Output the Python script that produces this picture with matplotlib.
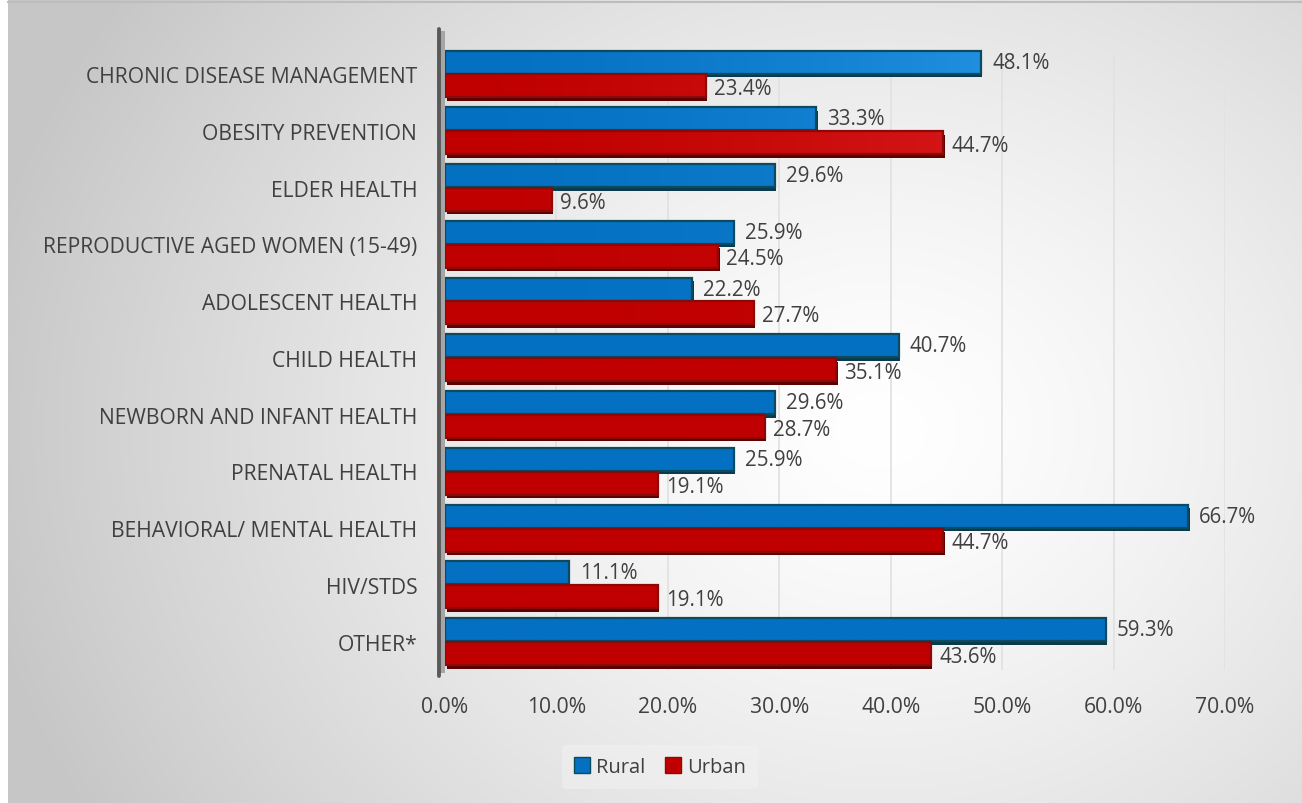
import numpy as np
import matplotlib
matplotlib.use("Agg")
import matplotlib.pyplot as plt
from matplotlib.patches import Patch, Rectangle
import matplotlib.transforms as mtransforms
from matplotlib.colors import to_rgb

categories = ["CHRONIC DISEASE MANAGEMENT", "OBESITY PREVENTION", "ELDER HEALTH",
              "REPRODUCTIVE AGED WOMEN (15-49)", "ADOLESCENT HEALTH", "CHILD HEALTH",
              "NEWBORN AND INFANT HEALTH", "PRENATAL HEALTH", "BEHAVIORAL/ MENTAL HEALTH",
              "HIV/STDS", "OTHER*"]
rural = [48.1, 33.3, 29.6, 25.9, 22.2, 40.7, 29.6, 25.9, 66.7, 11.1, 59.3]
urban = [23.4, 44.7, 9.6, 24.5, 27.7, 35.1, 28.7, 19.1, 44.7, 19.1, 43.6]
xticks = [0, 10, 20, 30, 40, 50, 60, 70]
series_names = ["Rural", "Urban"]

plt.rcParams['font.family'] = ['Open Sans', 'DejaVu Sans']
TXT = '#404040'
FS = 14.8
FSC = 15.2

W, H = 1302, 804
fig = plt.figure(figsize=(W / 100, H / 100), dpi=100)

# background radial gradient
bg = fig.add_axes([0, 0, 1, 1], zorder=-10)
yy, xx = np.mgrid[0:H, 0:W]
d = np.sqrt(((xx - 880) / 1.0) ** 2 + ((yy - 430) / 0.85) ** 2)
t = np.clip(d / 920, 0, 1) ** 1.35
dark = np.array(to_rgb('#c6c6c6'))
light = np.array(to_rgb('#ffffff'))
img = light[None, None, :] * (1 - t[..., None]) + dark[None, None, :] * t[..., None]
img[:, :8, :] = 1.0
bg.imshow(img, extent=[0, W, H, 0], aspect='auto', interpolation='bilinear')
bg.plot([8, W], [2.5, 2.5], color='#bdbdbd', lw=1.5)
bg.set_xlim(0, W)
bg.set_ylim(H, 0)
bg.axis('off')

ax = fig.add_axes([445 / W, 1 - 671 / H, (1225 - 445) / W, (671 - 46.6) / H])
ax.set_facecolor('none')
n = len(categories)
y = np.arange(n)
h = 0.405
off = 0.21

for xv in xticks[1:]:
    ax.plot([xv, xv], [n - 0.5, -0.35], color='#e2e2e2', lw=1.3, zorder=0)

def draw_bars(vals, ypos, base, lite, edge, depth):
    base = np.array(to_rgb(base)); lite = np.array(to_rgb(lite))
    for v, yc in zip(vals, ypos):
        y0 = yc - h / 2
        sh = mtransforms.offset_copy(ax.transData, fig=fig, x=1.5, y=-3.5, units='dots')
        ax.add_patch(Rectangle((0, y0), v, h, facecolor=depth, edgecolor='none',
                               transform=sh, zorder=2))
        rect = Rectangle((0, y0), v, h, facecolor='none', edgecolor=edge, lw=1.6, zorder=4)
        ax.add_patch(rect)
        xs = np.linspace(0, v, 200)
        ww = (xs / 70.0) ** 1.5 * np.clip(1 - yc / 5.0, 0, 1)
        grad = base[None, :] * (1 - ww[:, None]) + lite[None, :] * ww[:, None]
        im = ax.imshow(grad[None, :, :], extent=[0, v, y0 + h, y0], aspect='auto',
                       zorder=3, interpolation='bilinear')
        im.set_clip_path(Rectangle((0, y0), v, h, transform=ax.transData))

draw_bars(rural, y - off, '#0470C2', '#35A6F5', '#0d4a5e', '#083b4f')
draw_bars(urban, y + off, '#C00000', '#F03535', '#8a0a0a', '#5e0000')
ax.set_xlim(0, 70)
ax.set_ylim(n - 0.5, -0.5)

for v, yc in zip(rural, y - off):
    ax.annotate(f"{v:.1f}%", (v, yc), xytext=(8, 0), textcoords='offset points',
                va='center', ha='left', fontsize=FS, color=TXT, zorder=6)
for v, yc in zip(urban, y + off):
    ax.annotate(f"{v:.1f}%", (v, yc), xytext=(6, -2), textcoords='offset points',
                va='center', ha='left', fontsize=FS, color=TXT, zorder=6)

ax.set_yticks(y)
ax.set_yticklabels(categories, fontsize=FSC, color=TXT)
ax.set_xticks(xticks)
ax.set_xticklabels([f"{v:.1f}%" for v in xticks], fontsize=FSC, color=TXT)
ax.tick_params(axis='both', length=0)
ax.tick_params(axis='x', pad=19)
ax.tick_params(axis='y', pad=20)
for s in ax.spines.values():
    s.set_visible(False)

# left wall of the 3D axis
ax.add_patch(Rectangle((-0.5, -0.75), 0.5, n + 0.3, facecolor='#a6a6a6', edgecolor='none',
                       clip_on=False, zorder=1))
ax.plot([-0.5, -0.5], [-0.8, n - 0.4], color='#595959', lw=2.8, clip_on=False, zorder=5,
        solid_capstyle='round')

handles = [Patch(facecolor='#0470C2', edgecolor='#0d4a5e', label=series_names[0]),
           Patch(facecolor='#C00000', edgecolor='#8a0a0a', label=series_names[1])]
leg = fig.legend(handles=handles, loc='center', bbox_to_anchor=(660 / W, 1 - 768 / H),
                 ncol=2, frameon=True, fontsize=14.5, handlelength=0.8, handleheight=0.8,
                 handletextpad=0.3, columnspacing=1.0, labelcolor=TXT, borderpad=0.6)
leg.get_frame().set_facecolor('#f2f2f2')
leg.get_frame().set_edgecolor('none')
leg.get_frame().set_alpha(0.5)

fig.savefig('out.png', dpi=100)
